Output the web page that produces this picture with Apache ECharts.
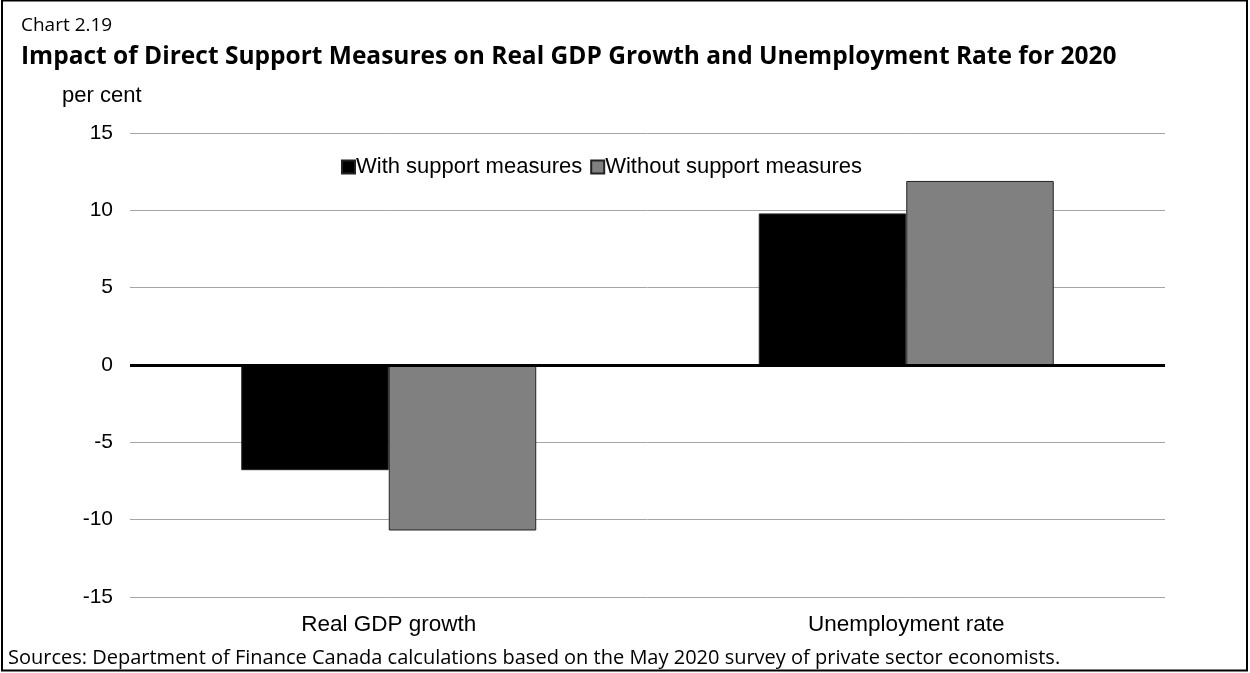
<!DOCTYPE html>
<html>
<head>
<meta charset="utf-8">
<script src="https://cdn.jsdelivr.net/npm/echarts@6/dist/echarts.min.js"></script>
<style>
  html, body { margin: 0; padding: 0; background: #fff; }
  #main { width: 1250px; height: 673px; }
</style>
</head>
<body>
<div id="main"></div>
<script>
const categories = ['Real GDP growth', 'Unemployment rate']
const withSupport = [-6.8, 9.8]
const withoutSupport = [-10.7, 11.9]
const yTicks = { min: -15, max: 15, interval: 5 }

const chart = echarts.init(document.getElementById('main'))

const option = {
  animation: false,
  backgroundColor: '#fff',
  title: [
    {
      text: 'Chart 2.19',
      left: 16, top: 11,
      textStyle: { fontFamily: 'Open Sans', fontSize: 19, fontWeight: 'normal', color: '#000' }
    },
    {
      text: 'Impact of Direct Support Measures on Real GDP Growth and Unemployment Rate for 2020',
      left: 16, top: 40,
      textStyle: { fontFamily: 'Open Sans', fontSize: 24.5, fontWeight: 'bold', color: '#000' }
    },
    {
      text: 'Sources: Department of Finance Canada calculations based on the May 2020 survey of private sector economists.',
      left: 3, top: 643,
      textStyle: { fontFamily: 'Open Sans', fontSize: 20, fontWeight: 'normal', color: '#000' }
    }
  ],
  legend: {
    top: 151, left: 336,
    itemWidth: 13, itemHeight: 13, itemGap: 8,
    icon: 'rect',
    textStyle: { fontFamily: 'Liberation Sans', fontSize: 22, color: '#000', padding: [0, 0, 0, -4] },
    data: ['With support measures', 'Without support measures']
  },
  grid: { left: 130, right: 85, top: 133, bottom: 76 },
  xAxis: {
    type: 'category',
    data: categories,
    axisLine: { show: false },
    axisTick: { show: false },
    axisLabel: { fontFamily: 'Liberation Sans', fontSize: 22.5, color: '#000', margin: 16 }
  },
  yAxis: {
    type: 'value',
    min: yTicks.min, max: yTicks.max, interval: yTicks.interval,
    name: 'per cent',
    nameLocation: 'end',
    nameGap: 26,
    nameTextStyle: { fontFamily: 'Liberation Sans', fontSize: 22, color: '#000', align: 'left', padding: [0, 0, 0, -68] },
    axisLine: { show: false },
    axisTick: { show: false },
    axisLabel: { fontFamily: 'Liberation Sans', fontSize: 21, color: '#000', margin: 17 },
    splitLine: { lineStyle: { color: '#a6a6a6', width: 1 } }
  },
  series: [
    {
      name: 'With support measures',
      type: 'bar',
      data: withSupport,
      barGap: '0%',
      barCategoryGap: '43%',
      itemStyle: { color: '#000', borderColor: '#222', borderWidth: 1 },
      markLine: {
        silent: true, symbol: 'none', label: { show: false },
        lineStyle: { color: '#000', width: 3, type: 'solid' },
        data: [{ yAxis: 0 }]
      }
    },
    {
      name: 'Without support measures',
      type: 'bar',
      data: withoutSupport,
      itemStyle: { color: '#808080', borderColor: '#222', borderWidth: 1 }
    }
  ],
  graphic: [
    {
      type: 'rect',
      shape: { x: 2, y: 0.5, width: 1245, height: 670 },
      style: { fill: 'none', stroke: '#000', lineWidth: 2 }
    }
  ]
}

chart.setOption(option)
</script>
</body>
</html>
